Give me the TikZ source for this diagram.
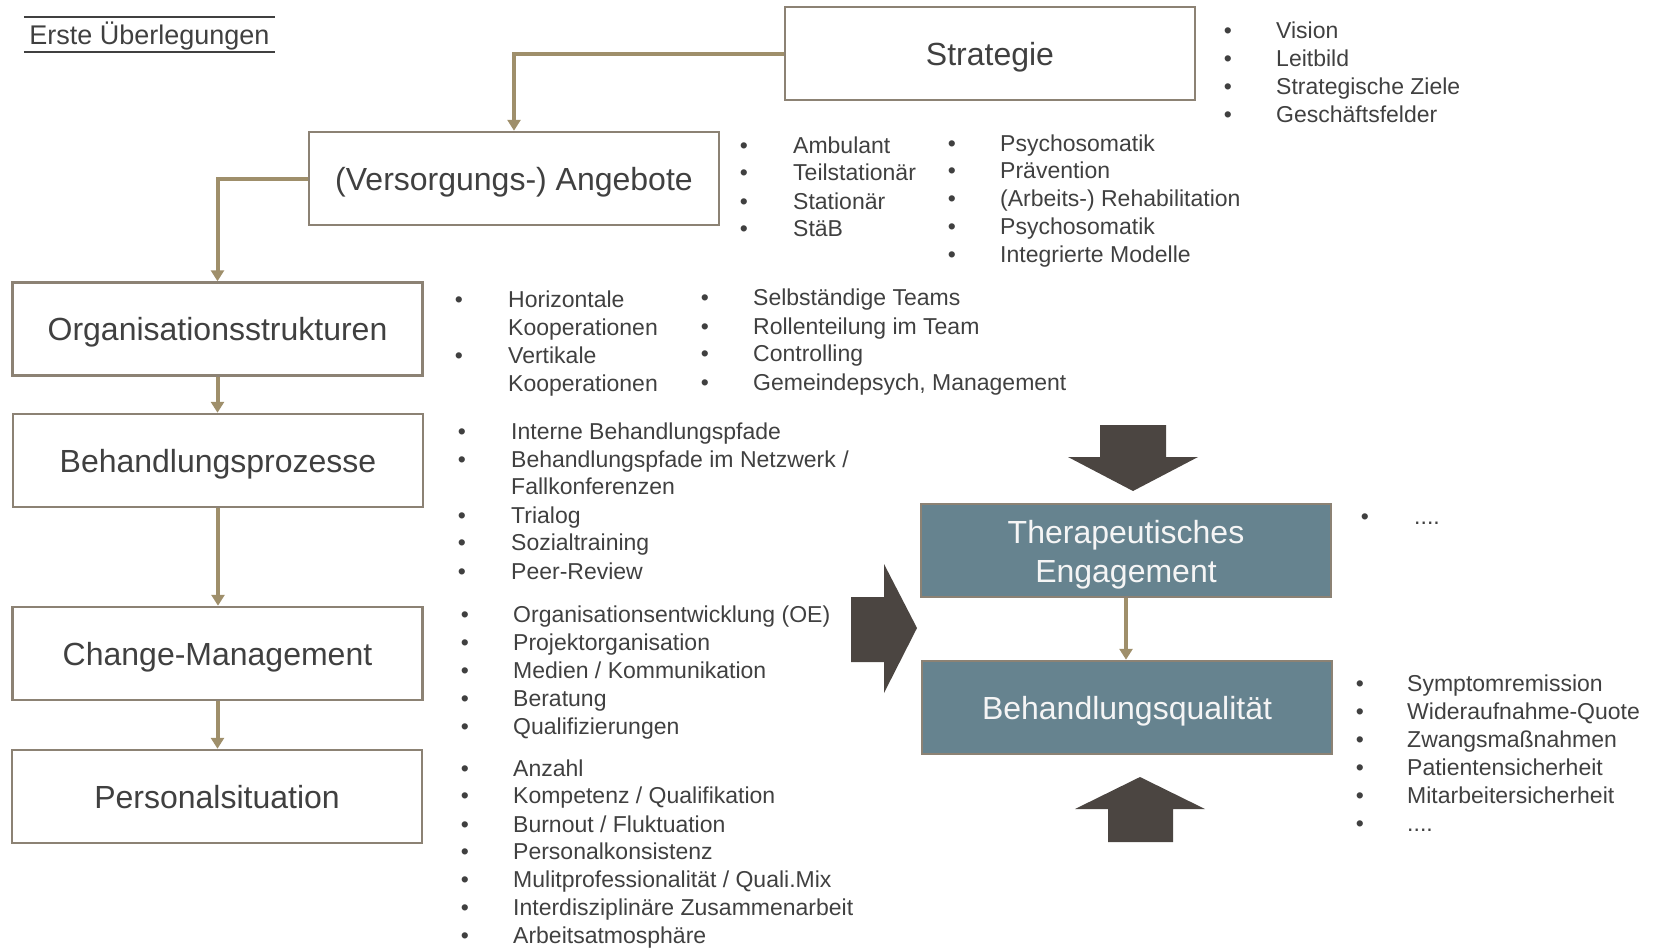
\documentclass[tikz,border=0pt]{standalone}
\usepackage{fontspec}
\setmainfont{Liberation Sans}
\usetikzlibrary{arrows.meta}
\definecolor{txt}{HTML}{404040}
\definecolor{boxline}{HTML}{8C8274}
\definecolor{tanline}{HTML}{9F8F6B}
\definecolor{slate}{HTML}{66838F}
\definecolor{darkarrow}{HTML}{4B4541}
\begin{document}
\begin{tikzpicture}[x=1bp,y=-1bp,
  box/.style={draw=boxline, line width=2.5bp, fill=white, minimum width=410bp, minimum height=93bp, inner sep=0pt, font=\fontsize{32bp}{38bp}\selectfont, text=txt, text height=23bp, text depth=0bp},
  sbox/.style={box, fill=slate, text=white!96!black},
  stext/.style={inner sep=0pt, align=center, text=white!96!black, font=\fontsize{32bp}{39bp}\selectfont},
  conn/.style={draw=tanline, line width=4bp, -{Triangle[width=13bp,length=11bp]}},
  lt/.style={anchor=west, inner sep=0pt, font=\fontsize{23bp}{27bp}\selectfont, text=txt, text height=16.5bp, text depth=0bp},
  bul/.style={lt, anchor=center},
  bigarrow/.style={fill=darkarrow, draw=none}]
\path[use as bounding box] (0,0) rectangle (1658,947);

% title
\node[minimum width=251bp, minimum height=35bp, inner sep=0pt, font=\fontsize{27bp}{32bp}\selectfont, text=txt, text height=19.5bp, text depth=0bp] (title) at (149.5,34.5) {Erste Überlegungen};
\draw[txt, line width=1.5bp] (title.north west) -- (title.north east);
\draw[txt, line width=1.5bp] (title.south west) -- (title.south east);

% boxes
\node[box] (strat) at (990,53.5) {Strategie};
\node[box] (ang) at (514,178.5) {(Versorgungs-) Angebote};
\node[box] (org) at (217.5,329) {Organisationsstrukturen};
\node[box] (beh) at (218,460.5) {Behandlungsprozesse};
\node[box] (chg) at (217.5,653.5) {Change-Management};
\node[box] (pers) at (217,796.5) {Personalsituation};
\node[sbox] (ther) at (1126,550.5) {};
\node[stext] (thert) at ([yshift=-4bp]ther.center) {Therapeutisches\\Engagement};
\node[sbox] (bq) at (1127,707.5) {Behandlungsqualität};

% connectors
\draw[conn] (strat.west) -| (ang.north);
\draw[conn] (ang.west) -| (org.north);
\draw[conn] (org.south) -- (org.south |- beh.north);
\draw[conn] (beh.south) -- (beh.south |- chg.north);
\draw[conn] (chg.south) -- (chg.south |- pers.north);
\draw[conn] (ther.south) -- (ther.south |- bq.north);

% big block arrows
\fill[bigarrow] (1100,425) -- (1166,425) -- (1166,457) -- (1198,457) -- (1133,491) -- (1068,457) -- (1100,457) -- cycle;
\fill[bigarrow] (851,597) -- (884,597) -- (884,564) -- (917,628) -- (884,693) -- (884,662) -- (851,662) -- cycle;
\fill[bigarrow] (1108,842) -- (1173,842) -- (1173,809) -- (1205,809) -- (1140,777) -- (1075,809) -- (1108,809) -- cycle;

% lists
\foreach \y/\t [count=\i] in {30/Vision,58/Leitbild,86/{Strategische Ziele},114/Geschäftsfelder}{
  \node[bul] (sb\i) at (1228,\y) {•};
  \node[lt] (st\i) at (1276,\y) {\t};
}
\foreach \y/\t [count=\i] in {145/Ambulant,172/Teilstationär,201/Stationär,228/StäB}{
  \node[bul] (ab\i) at (744,\y) {•};
  \node[lt] (at\i) at (793,\y) {\t};
}
\foreach \y/\t [count=\i] in {143/Psychosomatik,170/Prävention,198/{(Arbeits-) Rehabilitation},226/Psychosomatik,254/{Integrierte Modelle}}{
  \node[bul] (pb\i) at (952,\y) {•};
  \node[lt] (pt\i) at (1000,\y) {\t};
}
\node[bul] (ob1) at (459,299) {•};
\node[lt] (ot1) at (508,299) {Horizontale};
\node[lt] (ot2) at (508,327) {Kooperationen};
\node[bul] (ob3) at (459,355) {•};
\node[lt] (ot3) at (508,355) {Vertikale};
\node[lt] (ot4) at (508,383) {Kooperationen};
\foreach \y/\t [count=\i] in {297/{Selbständige Teams},326/{Rollenteilung im Team},353/Controlling,382/{Gemeindepsych, Management}}{
  \node[bul] (qb\i) at (705,\y) {•};
  \node[lt] (qt\i) at (753,\y) {\t};
}
\node[bul] (bb1) at (462,431) {•};
\node[lt] (bt1) at (511,431) {Interne Behandlungspfade};
\node[bul] (bb2) at (462,459) {•};
\node[lt] (bt2) at (511,459) {Behandlungspfade im Netzwerk /};
\node[lt] (bt3) at (511,486) {Fallkonferenzen};
\foreach \y/\t [count=\i from 4] in {515/Trialog,542/Sozialtraining,571/Peer-Review}{
  \node[bul] (bb\i) at (462,\y) {•};
  \node[lt] (bt\i) at (511,\y) {\t};
}
\foreach \y/\t [count=\i] in {614/{Organisationsentwicklung (OE)},642/Projektorganisation,670/{Medien / Kommunikation},698/Beratung,726/Qualifizierungen}{
  \node[bul] (cb\i) at (465,\y) {•};
  \node[lt] (ct\i) at (513,\y) {\t};
}
\foreach \y/\t [count=\i] in {768/Anzahl,795/{Kompetenz / Qualifikation},824/{Burnout / Fluktuation},851/Personalkonsistenz,879/{Mulitprofessionalität / Quali.Mix},907/{Interdisziplinäre Zusammenarbeit},935/Arbeitsatmosphäre}{
  \node[bul] (rb\i) at (465,\y) {•};
  \node[lt] (rt\i) at (513,\y) {\t};
}
\node[bul] (eb1) at (1365,516) {•};
\node[lt] (et1) at (1414,516) {....};
\foreach \y/\t [count=\i] in {683/Symptomremission,711/Wideraufnahme-Quote,739/Zwangsmaßnahmen,767/Patientensicherheit,795/Mitarbeitersicherheit,823/{....}}{
  \node[bul] (kb\i) at (1360,\y) {•};
  \node[lt] (kt\i) at (1407,\y) {\t};
}
\end{tikzpicture}
\end{document}
